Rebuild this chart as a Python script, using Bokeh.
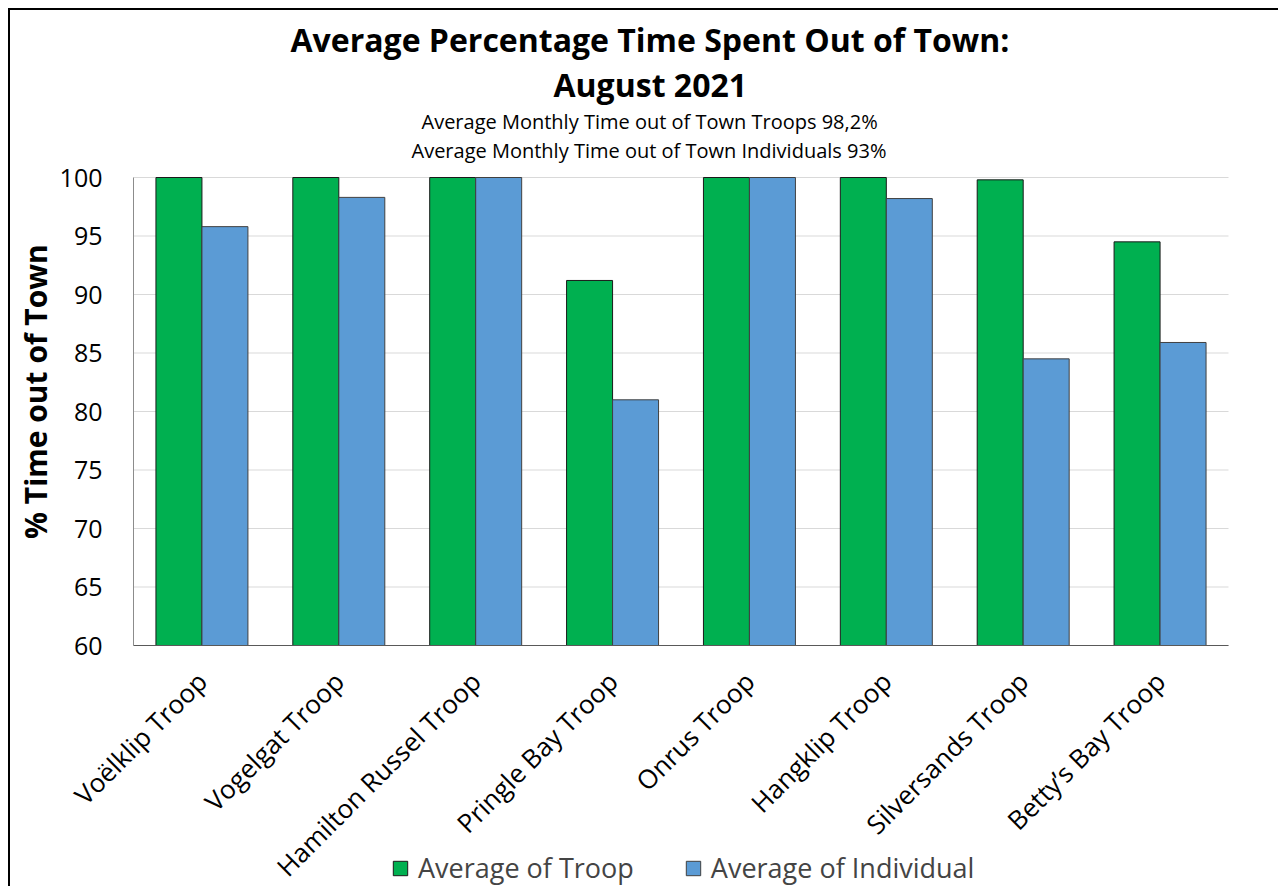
import math
from bokeh.plotting import figure
from bokeh.models import Range1d, Title, Legend, LegendItem, ColumnDataSource, FixedTicker
from bokeh.transform import dodge
from bokeh.embed import file_html
from bokeh.resources import INLINE

categories = ["Voëlklip Troop", "Vogelgat Troop", "Hamilton Russel Troop", "Pringle Bay Troop",
              "Onrus Troop", "Hangklip Troop", "Silversands Troop", "Betty’s Bay Troop"]
troop = [100.0, 100.0, 100.0, 91.2, 100.0, 100.0, 99.8, 94.5]
individual = [95.8, 98.3, 100.0, 81.0, 100.0, 98.2, 84.5, 85.9]
y_ticks = [60, 65, 70, 75, 80, 85, 90, 95, 100]
title_lines = ["Average Percentage Time Spent Out of Town:", "August 2021"]
subtitle_lines = ["Average Monthly Time out of Town Troops 98,2%",
                  "Average Monthly Time out of Town Individuals 93%"]
y_label = "%  Time out of Town"
series_names = ["Average of Troop", "Average of Individual"]

FONT = "Open Sans"
n = len(categories)
positions = list(range(1, n + 1))
src = ColumnDataSource(dict(pos=positions, troop=troop, individual=individual))

# ---- layout (canvas pixels) ----
CANVAS_W, CANVAS_H = 1270, 878
BORDER_L, BORDER_R, BORDER_T, BORDER_B = 45, 0, 153, 2
PLOT_W, AXIS_PX = 1095.0, 468.0            # width of the category area, height of 60..100
EXTRA_LEFT_PX, EXTRA_RIGHT_PX = 78.0, 52.0  # frame room left/right of the category area
EXTRA_TOP_PX, EXTRA_BOTTOM_PX = 14.0, 241.0
ymin, ymax = y_ticks[0], y_ticks[-1]
ppu_y = AXIS_PX / (ymax - ymin)
ppu_x = PLOT_W / n
left_edge, right_edge = 0.5, n + 0.5
x_range = Range1d(left_edge - EXTRA_LEFT_PX / ppu_x, right_edge + EXTRA_RIGHT_PX / ppu_x)
y_range = Range1d(ymin - EXTRA_BOTTOM_PX / ppu_y, ymax + EXTRA_TOP_PX / ppu_y)

p = figure(x_range=x_range, y_range=y_range,
           width=CANVAS_W, height=CANVAS_H, output_backend="svg", toolbar_location=None,
           min_border_left=BORDER_L, min_border_right=BORDER_R, min_border_top=BORDER_T,
           min_border_bottom=BORDER_B, title=None)
p.styles = {"margin-left": "8px", "margin-top": "8px",
            "border-top": "2px solid black", "border-left": "2px solid black"}
p.outline_line_color = None
p.xgrid.grid_line_color = None
p.ygrid.grid_line_color = None

# horizontal gridlines across the category area only
p.segment(x0=left_edge, x1=right_edge, y0=y_ticks, y1=y_ticks, line_color="#d9d9d9", line_width=1)

bw = 0.336
r1 = p.vbar(x=dodge("pos", -bw / 2), top="troop", bottom=ymin, width=bw,
            source=src, fill_color="#00b050", line_color="#1a1a1a", line_width=1)
r2 = p.vbar(x=dodge("pos", bw / 2), top="individual", bottom=ymin, width=bw,
            source=src, fill_color="#5b9bd5", line_color="#404040", line_width=1)

# titles, added from the frame outward
title_specs = [
    (subtitle_lines[1], "20px", "normal", 356),
    (subtitle_lines[0], "20px", "normal", 366),
    (title_lines[1], "32px", "bold", 498),
    (title_lines[0], "32px", "bold", 235),
]
for txt, size, style, off in title_specs:
    p.add_layout(Title(text=txt, align="left", offset=off, standoff=0,
                       text_font=FONT, text_font_size=size, text_font_style=style,
                       text_color="black"), "above")

# value axis, drawn at the left edge of the category area
p.yaxis.fixed_location = left_edge
p.yaxis.bounds = (ymin, ymax)
p.yaxis.ticker = FixedTicker(ticks=y_ticks)
p.yaxis.major_label_text_font = FONT
p.yaxis.major_label_text_font_size = "25px"
p.yaxis.major_label_text_color = "black"
p.yaxis.major_tick_line_color = None
p.yaxis.minor_tick_line_color = None
p.yaxis.axis_line_color = "#8c8c8c"
p.yaxis.major_label_standoff = 25

p.add_layout(Title(text=y_label, align="right", offset=73, standoff=0,
                   text_font=FONT, text_font_size="30px", text_font_style="bold",
                   text_color="black"), "left")

# category axis, drawn at y = 60
p.xaxis.fixed_location = ymin
p.xaxis.bounds = (left_edge, right_edge)
p.xaxis.ticker = FixedTicker(ticks=positions)
p.xaxis.major_label_overrides = {pos: cat for pos, cat in zip(positions, categories)}
p.xaxis.major_label_orientation = math.pi / 4
p.xaxis.major_label_text_font = FONT
p.xaxis.major_label_text_font_size = "26px"
p.xaxis.major_label_text_color = "black"
p.xaxis.major_tick_line_color = None
p.xaxis.minor_tick_line_color = None
p.xaxis.axis_line_color = "#595959"
p.xaxis.major_label_standoff = 25

legend = Legend(items=[LegendItem(label=series_names[0], renderers=[r1]),
                       LegendItem(label=series_names[1], renderers=[r2])],
                orientation="horizontal", location=(336, 0),
                label_text_font=FONT, label_text_font_size="27px", label_standoff=9,
                glyph_width=18, glyph_height=18, spacing=50, border_line_color=None,
                background_fill_alpha=0, padding=0, margin=0)
p.add_layout(legend, "center")

open("out.html", "w").write(file_html(p, INLINE))
